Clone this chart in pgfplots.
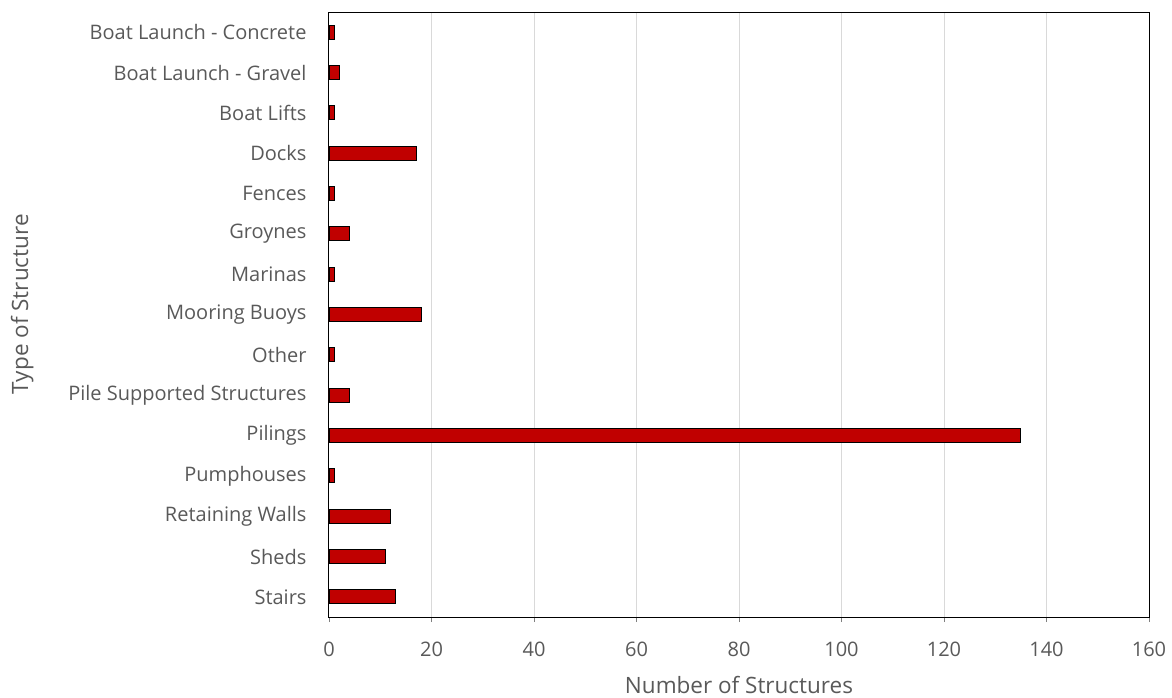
\documentclass[border=0pt]{standalone}
\usepackage{pgfplots}
\pgfplotsset{compat=1.18}
\usepackage{fontspec}
\setmainfont{Open Sans}
\usetikzlibrary{calc}
\definecolor{barred}{HTML}{C00000}
\definecolor{txt}{HTML}{595959}
\definecolor{grd}{HTML}{D9D9D9}
\begin{document}
\begin{tikzpicture}
\begin{axis}[
  name=ax,
  scale only axis,
  width=820bp, height=605bp,
  xbar, bar width=14bp,
  xmin=0, xmax=160, xtick distance=20,
  ymin=-0.5, ymax=14.5, y dir=reverse,
  ytick={0,...,14},
  yticklabels={Boat Launch - Concrete, Boat Launch - Gravel, Boat Lifts, Docks, Fences, Groynes, Marinas, Mooring Buoys, Other, Pile Supported Structures, Pilings, Pumphouses, Retaining Walls, Sheds, Stairs},
  ytick style={draw=none},
  xtick align=outside, xtick pos=bottom,
  major tick length=5bp,
  xmajorgrids, grid style={grd, line width=1pt},
  axis line style={black, line width=1pt},
  tick label style={font=\fontsize{20bp}{22bp}\selectfont, text=txt},
  /pgf/number format/assume math mode=true,
  xlabel={Number of Structures}, ylabel={Type of Structure},
  label style={font=\fontsize{22.5bp}{25bp}\selectfont, text=txt},
  xlabel style={at={(axis description cs:0.5,-0.113)}, anchor=center},
  ylabel style={at={(axis description cs:-0.374,0.517)}, anchor=center},
  yticklabel style={xshift=-14bp},
  xticklabel style={yshift=-16bp},
]
\addplot[fill=barred, draw=black, line width=1.2pt] coordinates {
(1,0) (2,1) (1,2) (17,3) (1,4) (4,5) (1,6) (18,7) (1,8) (4,9) (135,10) (1,11) (12,12) (11,13) (13,14)};
\end{axis}
\pgfresetboundingbox
\path[use as bounding box] ($(ax.south west)+(-329bp,-81bp)$) rectangle ($(ax.north east)+(23bp,12bp)$);
\end{tikzpicture}
\end{document}
